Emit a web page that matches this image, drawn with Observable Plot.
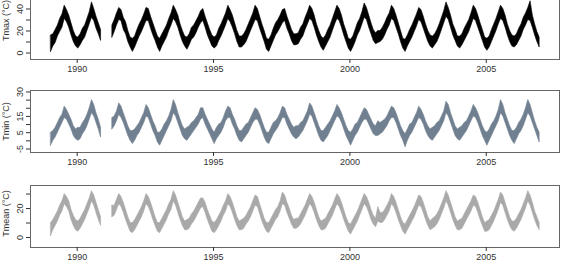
<!DOCTYPE html>
<html><head><meta charset="utf-8">
<script src="https://cdn.jsdelivr.net/npm/d3@7"></script>
<script src="https://cdn.jsdelivr.net/npm/@observablehq/plot@0.6"></script>
<style>
body{margin:0;background:#fff}
#chart{position:relative;width:564px;height:262px;overflow:hidden;background:#fff}
#chart svg{position:absolute;left:0}
</style></head><body><div id="chart"></div>
<script>
// monthly data, Jan 1989 .. Dec 2006 (null = missing, gap Dec 1990 - Mar 1991)
const startYear = 1989;
const xTicks = [1990, 1995, 2000, 2005];

// Tmax: monthly low / high envelope (°C)
const tmaxLo = [
 1,6,9,15,19,23,31,28,23,16,10,6,
 4,7,11,14,20,26,32,29,22,17,11,null,
 null,null,null,14,19,25,30,29,21,17,10,5,
 1,5,10,15,19,24,29,29,22,16,11,5,
 1,6,10,14,20,25,31,28,23,16,10,6,
 3,7,12,14,18,23,27,29,23,16,11,6,
 4,6,11,15,20,25,31,28,23,17,10,5,
 5,7,10,15,20,25,30,29,22,16,10,3,
 1,6,11,16,19,23,27,29,22,17,11,7,
 7,8,12,15,21,26,31,29,23,16,10,5,
 2,6,10,14,20,26,31,29,23,16,10,4,
 1,5,10,16,20,26,32,30,23,17,11,8,
 9,10,12,16,21,25,31,29,23,17,10,4,
 1,6,10,14,19,24,30,28,22,16,10,6,
 4,7,10,15,21,27,33,30,23,16,11,6,
 4,7,11,15,19,25,31,29,23,17,11,5,
 2,5,10,15,20,26,31,29,23,16,10,6,
 5,7,11,15,21,25,30,29,23,16,10,5];
const tmaxHi = [
 16,17,21,25,31,35,43,39,34,27,20,15,
 14,17,22,25,31,37,46,40,33,27,21,null,
 null,null,null,25,30,36,41,39,32,28,20,14,
 13,15,21,26,30,35,41,40,33,27,21,15,
 13,17,21,25,31,36,43,39,34,26,20,15,
 14,17,23,25,29,33,38,40,33,27,21,16,
 14,16,22,26,31,36,43,39,34,27,20,15,
 15,17,21,26,31,36,43,40,33,26,20,13,
 12,16,22,27,30,34,39,40,33,27,21,17,
 17,18,23,26,32,37,43,40,34,26,20,15,
 13,16,21,25,31,37,43,40,34,26,20,13,
 12,15,21,27,31,37,45,41,34,27,21,18,
 20,20,23,27,32,36,43,40,34,27,20,13,
 12,16,21,25,30,35,41,39,33,26,20,16,
 15,17,21,26,32,38,46,41,34,26,21,15,
 15,17,22,26,30,36,43,40,34,27,21,14,
 13,15,21,26,31,37,43,40,34,26,20,16,
 15,17,22,26,32,36,41,47,34,26,19,14];

// Tmin
const tminLo = [
 -3,0,2,5,8,11,14,13,10,7,3,1,
 0,1,4,6,9,13,17,15,11,7,2,null,
 null,null,null,7,9,12,16,14,11,7,3,0,
 -2,0,3,5,8,11,15,14,10,6,3,-1,
 -3,0,3,6,9,12,17,15,11,7,3,1,
 0,2,4,6,8,10,13,14,10,7,4,1,
 -2,1,3,5,8,12,14,14,10,7,3,0,
 -1,1,3,5,8,11,13,13,10,6,2,-1,
 -2,1,4,6,8,11,14,14,10,7,4,2,
 1,2,4,6,9,12,16,15,11,7,3,0,
 -1,1,3,6,9,12,15,14,11,7,3,0,
 -3,0,3,5,8,11,13,13,10,7,4,3,
 3,4,5,7,9,12,14,14,11,7,3,0,
 -4,0,3,5,8,11,14,13,10,6,3,1,
 0,2,4,6,9,12,17,15,11,7,3,1,
 0,2,4,6,9,12,15,14,11,7,3,0,
 -3,0,3,6,9,12,17,15,11,7,3,0,
 -2,1,4,6,9,13,17,15,11,7,3,-1];
const tminHi = [
 5,6,8,11,14,16,21,19,16,13,9,7,
 8,8,11,13,16,20,25,22,17,13,8,null,
 null,null,null,14,15,18,23,21,17,13,9,6,
 6,7,9,11,14,17,22,20,16,12,9,5,
 5,7,10,12,15,19,25,22,17,13,9,7,
 8,9,11,12,14,16,20,20,16,13,10,7,
 5,8,10,11,14,18,21,20,16,13,9,6,
 6,8,10,11,14,17,20,19,16,12,8,5,
 5,8,11,12,14,17,21,20,16,13,10,8,
 9,9,11,12,15,18,23,21,17,13,9,6,
 6,8,10,12,15,18,22,20,17,13,9,6,
 5,7,10,11,14,17,20,19,16,13,10,9,
 12,11,12,13,15,18,21,20,17,13,9,6,
 4,7,10,11,14,17,21,19,16,12,9,7,
 8,9,11,12,15,18,24,22,17,13,9,7,
 8,9,11,12,15,18,22,20,17,13,9,6,
 5,7,10,12,15,19,25,22,17,13,9,6,
 6,8,11,13,16,20,25,22,17,12,8,5];

// Tmean
const tmeanLo = [
 1,5,8,11,15,18,23,21,18,12,8,5,
 4,6,9,12,16,20,25,22,17,12,8,null,
 null,null,null,14,15,19,23,21,17,12,8,4,
 3,5,8,11,14,18,23,21,17,12,8,4,
 3,6,9,12,16,19,25,22,17,12,8,5,
 5,6,9,11,14,17,20,21,17,12,8,4,
 3,5,8,11,15,18,23,21,17,12,8,5,
 5,6,9,11,14,18,22,21,16,11,7,4,
 3,6,9,12,14,18,23,22,17,13,9,6,
 6,7,9,12,15,19,23,21,17,12,8,5,
 5,6,9,12,15,19,23,21,17,12,8,4,
 2,5,8,11,15,19,23,21,17,12,9,7,
 11,10,10,12,15,18,23,21,17,12,8,4,
 2,5,8,11,14,18,22,21,17,12,8,5,
 6,7,9,12,16,20,25,22,17,12,8,5,
 5,6,9,12,15,18,22,21,17,12,8,4,
 4,5,8,11,15,19,24,22,17,12,8,5,
 4,6,9,12,16,20,25,22,17,12,8,5];
const tmeanHi = [
 10,12,15,18,22,25,30,28,25,19,15,12,
 11,13,16,19,23,27,32,29,24,19,14,null,
 null,null,null,22,22,26,30,28,24,19,14,10,
 10,12,15,18,21,25,30,28,24,19,14,10,
 10,13,16,19,23,26,32,29,24,19,14,11,
 12,13,16,18,21,24,27,27,24,19,15,11,
 10,12,15,18,22,25,30,28,24,19,14,11,
 12,13,15,18,21,25,29,28,23,18,13,10,
 10,13,16,19,21,25,31,29,24,20,15,12,
 13,13,16,19,22,26,30,28,24,19,14,11,
 12,13,16,19,22,26,30,28,24,19,14,10,
 9,12,15,18,22,26,30,28,24,19,15,13,
 21,17,17,19,22,25,30,28,24,19,14,10,
 9,12,15,18,21,25,29,28,24,19,14,11,
 13,14,16,19,23,27,32,29,24,19,14,11,
 12,13,16,19,22,25,29,28,24,19,14,10,
 11,12,15,18,22,26,31,29,24,19,14,11,
 11,13,16,19,23,27,32,29,24,18,14,10];

const panels = [
  {lo: tmaxLo, hi: tmaxHi, color: "#000000", title: "Tmax (°C)", domain: [-5.9, 50.45],
   ticks: [0,10,20,30,40], labels: [0,20,40], top: -13, titleDy: -8},
  {lo: tminLo, hi: tminHi, color: "#708090", title: "Tmin (°C)", domain: [-7.15, 30.9],
   ticks: [-5,0,5,10,15,20,25,30], labels: [-5,5,15,30], top: 80, titleDy: 0},
  {lo: tmeanLo, hi: tmeanHi, color: "#a9a9a9", title: "Tmean (°C)", domain: [-6.9, 35.9],
   ticks: [0,10,20,30], labels: [0,20], top: 175, titleDy: -3}
];
const xDomain = [1988.288, 2007.686];

function panel(p) {
  const rows = p.lo.map((v, i) => ({
    x: startYear + Math.floor(i / 12) + (i % 12 + 0.5) / 12, lo: v, hi: p.hi[i]
  }));
  const svg = Plot.plot({
    width: 564, height: 94, marginLeft: 30, marginRight: 5, marginTop: 10, marginBottom: 22,
    style: {fontFamily: "'Liberation Sans', Arial, sans-serif", fontSize: "9px", color: "#333", background: "transparent"},
    x: {domain: xDomain, axis: null},
    y: {domain: p.domain, axis: null},
    marks: [
      Plot.areaY(rows, {x: "x", y1: "lo", y2: "hi", fill: p.color, stroke: p.color, strokeWidth: 0.6}),
      Plot.frame({stroke: "#666"}),
      Plot.axisX({ticks: xTicks, tickFormat: d => String(d), tickSize: 4, tickPadding: 2, label: null}),
      Plot.axisY({ticks: p.ticks, tickFormat: () => "", tickSize: 4, label: null}),
      Plot.text(p.labels, {y: d => d, text: d => String(d), frameAnchor: "left", dx: -10, rotate: -90, textAnchor: "middle", fill: "#333"}),
      Plot.text([p.title], {text: d => d, frameAnchor: "left", dx: -24, dy: p.titleDy, rotate: -90, textAnchor: "middle", fill: "#333"})
    ]
  });
  svg.style.top = p.top + "px";
  return svg;
}
const root = document.getElementById("chart");
panels.forEach(p => root.appendChild(panel(p)));
</script>
</body></html>
